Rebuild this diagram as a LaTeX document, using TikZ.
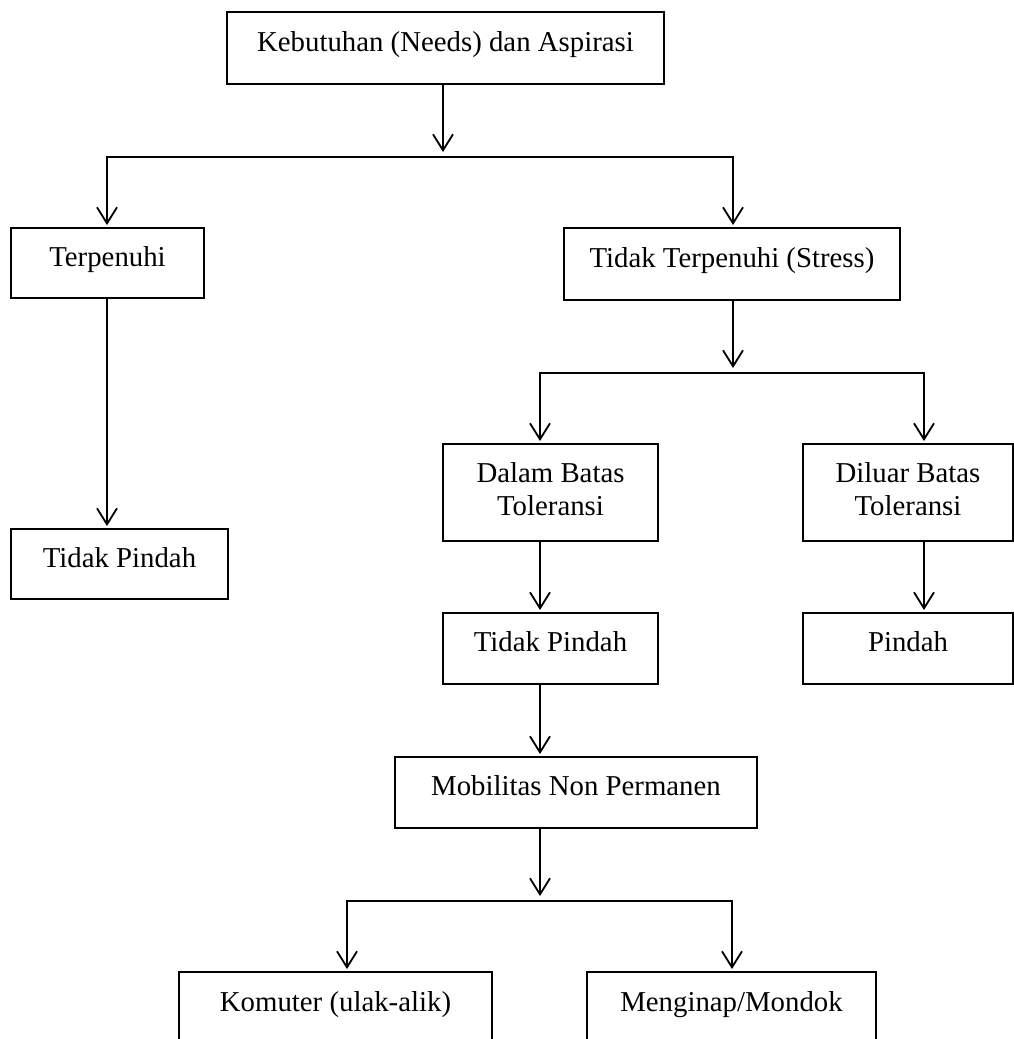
\documentclass[tikz,border=0pt]{standalone}
\usepackage{fontspec}
\setmainfont{Liberation Serif}
\usetikzlibrary{arrows.meta}
\begin{document}
\begin{tikzpicture}[x=1pt,y=-1pt,
  box/.style={draw, line width=2pt, inner sep=0pt, outer sep=0pt, anchor=north west,
    font=\fontsize{28.8}{33}\selectfont, align=center},
  one/.style={text height=19.9pt, text depth=13pt},
  two/.style={text depth=6pt},
  conn/.style={line width=1.8pt},
  arr/.style={conn, -{Straight Barb[length=16pt,width=20pt]}, shorten >=3pt},
]
\useasboundingbox (0,0) rectangle (1014,1039);
\clip (0,0) rectangle (1014,1039);

\node[box,one,minimum width=437pt,minimum height=72pt] (need) at (227,12) {Kebutuhan (Needs) dan Aspirasi};
\node[box,one,minimum width=193pt,minimum height=70pt] (terp) at (11,228) {Terpenuhi};
\node[box,one,minimum width=336pt,minimum height=72pt] (tt) at (564,228) {Tidak Terpenuhi (Stress)};
\node[box,one,minimum width=217pt,minimum height=70pt] (tpl) at (11,529) {Tidak Pindah};
\node[box,two,minimum width=215pt,minimum height=97pt] (dalam) at (443,444) {Dalam Batas\\Toleransi};
\node[box,two,minimum width=210pt,minimum height=97pt] (luar) at (803,444) {Diluar Batas\\Toleransi};
\node[box,one,minimum width=215pt,minimum height=71pt] (tpm) at (443,613) {Tidak Pindah};
\node[box,one,minimum width=210pt,minimum height=71pt] (pindah) at (803,613) {Pindah};
\node[box,one,minimum width=362pt,minimum height=71pt] (mob) at (395,757) {Mobilitas Non Permanen};
\node[box,one,minimum width=313pt,minimum height=72pt] (kom) at (179,972) {Komuter (ulak-alik)};
\node[box,one,minimum width=289pt,minimum height=72pt] (inap) at (587,972) {Menginap/Mondok};

\coordinate (j1) at (443,157);
\coordinate (j1l) at (107,157);
\coordinate (j1r) at (733,157);
\coordinate (j2) at (733,373);
\coordinate (j2l) at (540,373);
\coordinate (j2r) at (924,373);
\coordinate (j3) at (540,901);
\coordinate (j3l) at (347,901);
\coordinate (j3r) at (732,901);

\draw[arr, shorten >=5pt] (need.south -| j1) -- (j1);
\draw[arr] (j1) -| (j1l |- terp.north);
\draw[arr] (j1) -| (j1r |- tt.north);
\draw[arr] (terp.south -| j1l) -- (j1l |- tpl.north);

\draw[arr, shorten >=5pt] (tt.south -| j2) -- (j2);
\draw[arr] (j2) -| (j2l |- dalam.north);
\draw[arr] (j2) -| (j2r |- luar.north);
\draw[arr] (dalam.south -| j2l) -- (j2l |- tpm.north);
\draw[arr] (luar.south -| j2r) -- (j2r |- pindah.north);
\draw[arr] (tpm.south -| j2l) -- (j2l |- mob.north);

\draw[arr, shorten >=5pt] (mob.south -| j3) -- (j3);
\draw[arr] (j3) -| (j3l |- kom.north);
\draw[arr] (j3) -| (j3r |- inap.north);
\end{tikzpicture}
\end{document}
